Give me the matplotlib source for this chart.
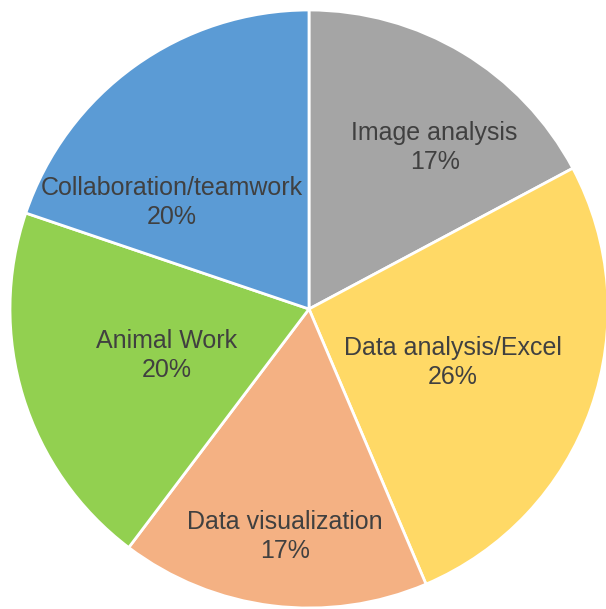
import matplotlib
matplotlib.use('Agg')
import matplotlib.pyplot as plt

# skill categories, clockwise from 12 o'clock
labels = ['Image analysis', 'Data analysis/Excel', 'Data visualization', 'Animal Work', 'Collaboration/teamwork']
shares = [17.2, 26.4, 16.7, 19.9, 19.8]   # slice sizes
percents = [17, 26, 17, 20, 20]           # printed labels
colors = ['#A5A5A5', '#FFD966', '#F4B183', '#92D050', '#5B9BD5']

# label centres as fractions of the radius (layout only)
label_pos = [(0.42, 0.54), (0.48, -0.18), (-0.08, -0.76), (-0.475, -0.155), (-0.46, 0.355)]

plt.rcParams['font.family'] = ['Liberation Sans', 'DejaVu Sans']

W, H = 606, 609
fig = plt.figure(figsize=(W / 100, H / 100), dpi=100)
cx, cy, r = 309, 309, 299
ax = fig.add_axes([(cx - r) / W, (H - cy - r) / H, 2 * r / W, 2 * r / H])

wedges, _ = ax.pie(shares, colors=colors, startangle=90, counterclock=False,
                   radius=1, wedgeprops={'edgecolor': 'white', 'linewidth': 2})
ax.set_xlim(-1, 1)
ax.set_ylim(-1, 1)
ax.set_aspect('auto')
ax.axis('off')

for lab, p, (x, y) in zip(labels, percents, label_pos):
    ax.text(x, y, f'{lab}\n{p}%', ha='center', va='center', fontsize=18,
            color='#404040', linespacing=1.25)

fig.savefig('out.png', dpi=100)
